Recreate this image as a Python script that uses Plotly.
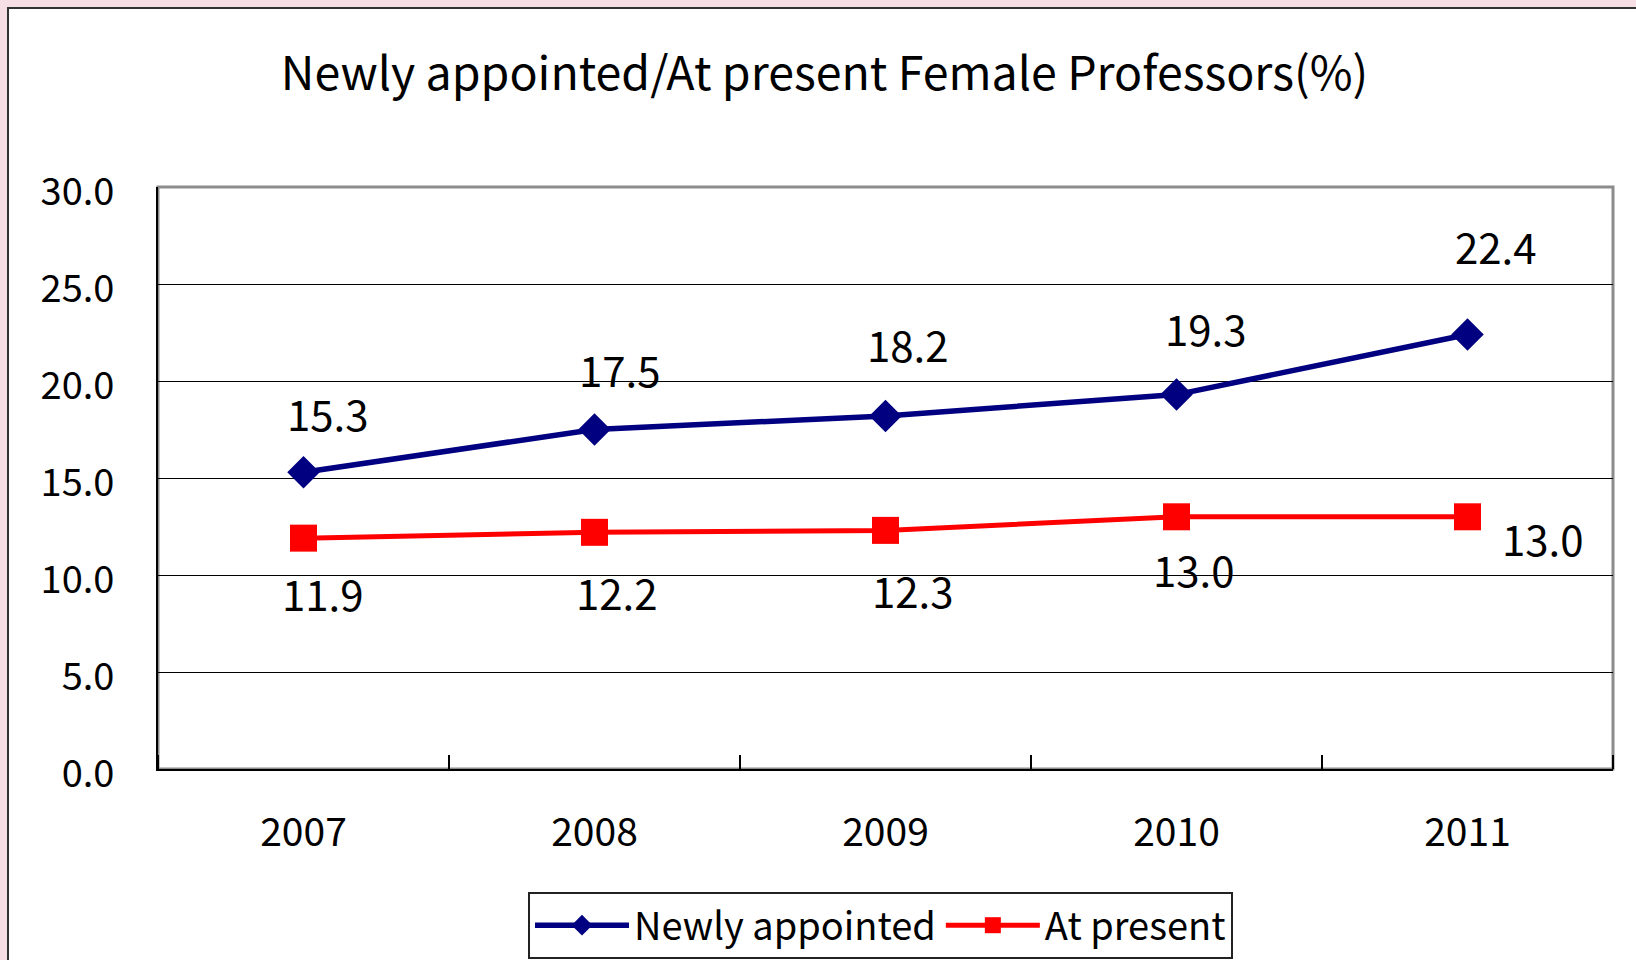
import plotly.graph_objects as go

# data
years = [2007, 2008, 2009, 2010, 2011]
newly = [15.3, 17.5, 18.2, 19.3, 22.4]
present = [11.9, 12.2, 12.3, 13.0, 13.0]

# label offsets in px (x, y up), as placed in the original
newly_off = [(24, 60), (25, 61), (22, 72), (29, 67), (28, 89)]
present_off = [(19, -54), (22, -59), (27, -59), (17, -52), (75, -21)]

FONT = "Noto Sans CJK JP"

# plot area in pixels: x 158..1613, y 187..769
L, R, T, B = 158, 23, 187, 191
W, H = 1636, 960
pw, ph = W - L - R, H - T - B


def px_x(p):
    return (p - L) / pw


def px_y(p):
    return (H - B - p) / ph


fig = go.Figure()

fig.add_trace(go.Scatter(
    x=years, y=newly, name="Newly appointed", mode="lines+markers",
    line=dict(color="#000080", width=5.5),
    marker=dict(symbol="diamond", size=25, color="#000080")))

fig.add_trace(go.Scatter(
    x=years, y=present, name="At present", mode="lines+markers",
    line=dict(color="#ff0000", width=5),
    marker=dict(symbol="square", size=27, color="#ff0000")))

ann = []
for yr, v, (dx, dy) in zip(years, newly, newly_off):
    ann.append(dict(x=yr, y=v, text=f"{v:.1f}", showarrow=False,
                    xshift=dx, yshift=dy,
                    font=dict(family=FONT, size=42, color="black")))
for yr, v, (dx, dy) in zip(years, present, present_off):
    ann.append(dict(x=yr, y=v, text=f"{v:.1f}", showarrow=False,
                    xshift=dx, yshift=dy,
                    font=dict(family=FONT, size=42, color="black")))

shapes = [
    # outer chart box (white on pink background)
    dict(type="rect", xref="paper", yref="paper", layer="below",
         x0=px_x(8), x1=px_x(1660), y0=px_y(990), y1=px_y(8),
         fillcolor="white", line=dict(color="#333333", width=2)),
    # plot area frame (gray top/right)
    dict(type="rect", xref="paper", yref="paper", layer="below",
         x0=0, x1=1, y0=0, y1=1,
         line=dict(color="#8c8c8c", width=3)),
]

fig.update_layout(
    width=W, height=H,
    margin=dict(l=L, r=R, t=T, b=B),
    paper_bgcolor="#f6dfe5",
    plot_bgcolor="white",
    title=dict(text="Newly appointed/At present Female Professors(%)",
               xref="container", x=0.504, xanchor="center",
               yref="container", y=1 - 74 / H, yanchor="middle",
               font=dict(family=FONT, size=46.5, color="black")),
    showlegend=True,
    legend=dict(orientation="h", xanchor="left", yanchor="top",
                xref="container", yref="container",
                x=528 / W, y=1 - 892 / H,
                bgcolor="white", bordercolor="#222222", borderwidth=2,
                font=dict(family=FONT, size=38, color="black"),
                itemwidth=94, itemsizing="trace"),
    annotations=ann,
    shapes=shapes,
)

fig.update_xaxes(
    range=[years[0] - 0.5, years[-1] + 0.5],
    tickvals=years, ticks="", automargin=False,
    minor=dict(tick0=years[0] - 0.5, dtick=1, ticks="inside", ticklen=14,
               tickcolor="black", tickwidth=1.5, showgrid=False),
    showline=True, linecolor="black", linewidth=2,
    showgrid=False, zeroline=False, ticklabelstandoff=28,
    tickfont=dict(family=FONT, size=39, color="black"))

fig.update_yaxes(
    range=[0, 30], dtick=5, tickformat=".1f",
    ticks="inside", ticklen=14, tickcolor="black", automargin=False,
    showline=True, linecolor="black", linewidth=2,
    showgrid=True, gridcolor="black", gridwidth=1,
    zeroline=False, ticklabelstandoff=34, ticklabelshift=5,
    tickfont=dict(family=FONT, size=38, color="black"))

# the page body has a default 8px margin; drop it so the figure fills the window
fig.write_html("out.html", config={"displayModeBar": False},
               post_script="document.body.style.margin='0';")
